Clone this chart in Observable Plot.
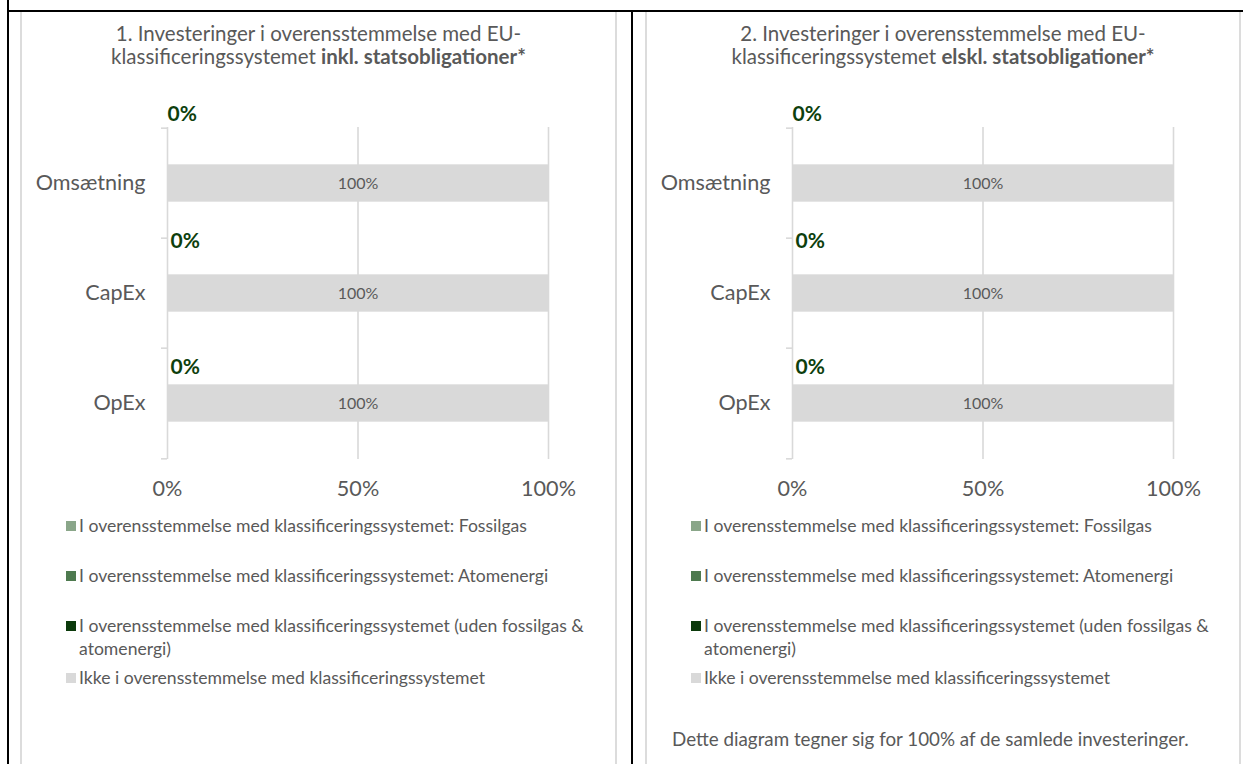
<!DOCTYPE html>
<html><head><meta charset="utf-8">
<script src="https://cdn.jsdelivr.net/npm/d3@7"></script>
<script src="https://cdn.jsdelivr.net/npm/@observablehq/plot@0.6"></script>
<style>
body{margin:0;width:1243px;height:764px;position:relative;overflow:hidden;background:#fff;font-family:Lato,"Open Sans",sans-serif;color:#595959}
.bl{position:absolute;background:#000}
.gl{position:absolute;background:#dcdcdc;top:12px;height:752px;width:2px}
.panel{position:absolute;top:12px;height:752px}
.title{position:absolute;left:0;right:0;top:9.5px;text-align:center;font-size:20.5px;line-height:23px;color:#595959}
.title b{font-weight:700}
.plot{position:absolute;left:0;top:78px}
.legend{position:absolute;left:45px;top:502px;width:540px;font-size:17.6px;line-height:23px;color:#595959}
.item{display:flex;align-items:flex-start;margin-bottom:27px}
.sw{flex:0 0 10px;width:10px;height:10px;margin-top:6.5px;margin-right:3px}
.caption{position:absolute;left:26px;top:715px;font-size:18.8px;line-height:23px;color:#595959;white-space:nowrap}
</style></head>
<body>
<div class="bl" style="left:7px;top:0;width:2px;height:764px"></div>
<div class="bl" style="left:7px;top:10px;width:1236px;height:2px"></div>
<div class="bl" style="left:631px;top:10px;width:2px;height:754px"></div>
<div class="gl" style="left:20px"></div>
<div class="gl" style="left:615px"></div>
<div class="gl" style="left:645px"></div>
<div class="gl" style="left:1239px"></div>
<div id="p1" class="panel" style="left:21px;width:595px"></div>
<div id="p2" class="panel" style="left:646px;width:594px"></div>
<script>
// ---- data ----
const categories = ["Omsætning", "CapEx", "OpEx"];
const seriesNames = [
  "I overensstemmelse med klassificeringssystemet: Fossilgas",
  "I overensstemmelse med klassificeringssystemet: Atomenergi",
  "I overensstemmelse med klassificeringssystemet (uden fossilgas & atomenergi)",
  "Ikke i overensstemmelse med klassificeringssystemet"
];
const seriesColors = ["#8aa689", "#4e7a4f", "#0b3a0b", "#d9d9d9"];
// chart 1: incl. government bonds
const fossilgasInkl  = [0, 0, 0];
const atomenergiInkl = [0, 0, 0];
const udenInkl       = [0, 0, 0];
const ikkeInkl       = [100, 100, 100];
// chart 2: excl. government bonds
const fossilgasEkskl  = [0, 0, 0];
const atomenergiEkskl = [0, 0, 0];
const udenEkskl       = [0, 0, 0];
const ikkeEkskl       = [100, 100, 100];
const xTicks = [0, 50, 100];
const titleStart = ["1. Investeringer i overensstemmelse med EU-", "2. Investeringer i overensstemmelse med EU-"];
const titleMid = "klassificeringssystemet ";
const titleBold = ["inkl. statsobligationer*", "elskl. statsobligationer*"];
const captionText = "Dette diagram tegner sig for 100% af de samlede investeringer.";

// ---- drawing ----
function makePlot(values, width) {
  const rows = [];
  seriesNames.forEach((s, i) => categories.forEach((c, j) => rows.push({cat: c, series: s, value: values[i][j]})));
  const aligned = rows.filter(d => d.series === seriesNames[2]);
  const H = 420, mT = 37, mB = 51, mL = 146, mR = width - 527;
  const step = (H - mT - mB) / categories.length;
  const barH = 38;
  const tickLen = 6 * 100 / (width - mL - mR);
  const labelDy = [-69, -52, -36];
  const labelDx = [0, 3, 3];
  const marks = [
    Plot.ruleX(xTicks.filter(t => t > 0), {stroke: "#d9d9d9", strokeWidth: 1.6}),
    Plot.ruleX([0], {stroke: "#d9d9d9", strokeWidth: 1.6}),
    Plot.ruleY(categories, {y: d => d, x1: -tickLen, x2: 0, dy: -step / 2, stroke: "#d9d9d9", strokeWidth: 1.6}),
    Plot.ruleY([categories[categories.length - 1]], {y: d => d, x1: -tickLen, x2: 0, dy: step / 2, stroke: "#d9d9d9", strokeWidth: 1.6}),
    Plot.barX(rows, Plot.stackX({x: "value", y: "cat", fill: "series", order: seriesNames, insetTop: (step - barH) / 2, insetBottom: (step - barH) / 2})),
    Plot.text(rows.filter(d => d.series === seriesNames[3]), Plot.stackX({x: "value", y: "cat", text: d => d.value + "%", fill: "#595959", fontSize: 16})),
    ...categories.map((c, i) => Plot.text(aligned.filter(d => d.cat === c), {
      x: 0, y: "cat", text: d => d.value + "%", textAnchor: "start", dy: labelDy[i], dx: labelDx[i],
      fill: "#0d3f0d", fontWeight: "bold", fontSize: 21
    })),
    Plot.axisY({tickSize: 0, tickPadding: 22, fontSize: 21.6, fill: "#595959", label: null}),
    Plot.axisX({ticks: xTicks, tickFormat: d => d + "%", tickSize: 0, tickPadding: 21, fontSize: 21.6, fill: "#595959", label: null})
  ];
  return Plot.plot({
    width, height: H, marginTop: mT, marginBottom: mB, marginLeft: mL, marginRight: mR,
    style: {fontFamily: "Lato, 'Open Sans', sans-serif", color: "#595959", background: "transparent", overflow: "visible"},
    x: {domain: [0, 100], axis: null},
    y: {domain: categories, padding: 0, axis: null},
    color: {domain: seriesNames, range: seriesColors},
    marks
  });
}

function buildPanel(id, idx, values, width, withCaption) {
  const p = document.getElementById(id);
  const t = document.createElement("div");
  t.className = "title";
  t.append(titleStart[idx], document.createElement("br"), titleMid);
  const b = document.createElement("b"); b.textContent = titleBold[idx]; t.append(b);
  p.append(t);
  const pl = makePlot(values, width);
  pl.classList.add("plot");
  p.append(pl);
  const lg = document.createElement("div");
  lg.className = "legend";
  seriesNames.forEach((s, i) => {
    const it = document.createElement("div"); it.className = "item";
    if (i === 2) it.style.marginBottom = "6px";
    const sw = document.createElement("span"); sw.className = "sw"; sw.style.background = seriesColors[i];
    const tx = document.createElement("span"); tx.textContent = s;
    it.append(sw, tx); lg.append(it);
  });
  p.append(lg);
  if (withCaption) {
    const c = document.createElement("div"); c.className = "caption"; c.textContent = captionText; p.append(c);
  }
}
buildPanel("p1", 0, [fossilgasInkl, atomenergiInkl, udenInkl, ikkeInkl], 595, false);
buildPanel("p2", 1, [fossilgasEkskl, atomenergiEkskl, udenEkskl, ikkeEkskl], 594, true);
</script>
</body></html>
